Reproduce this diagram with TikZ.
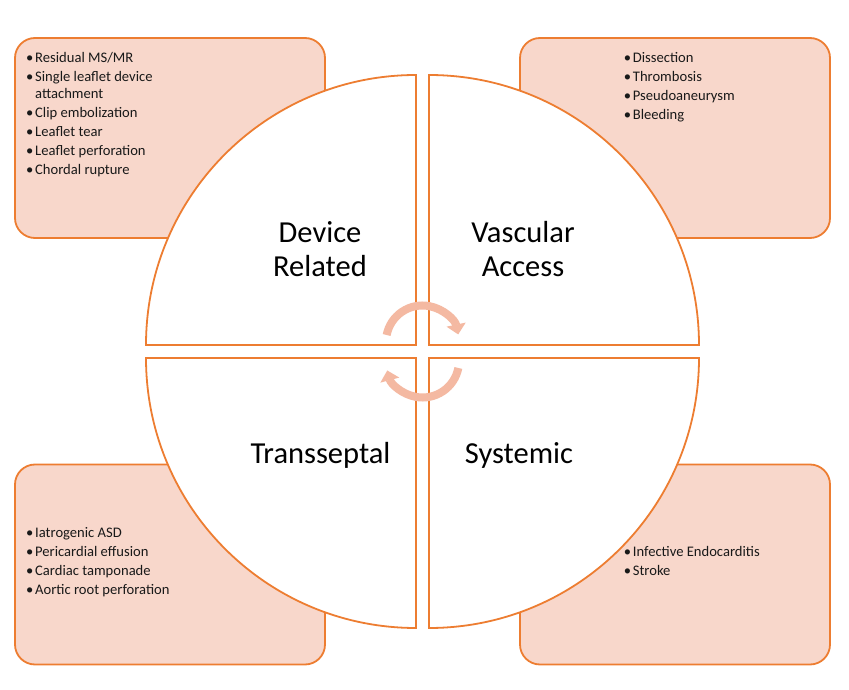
\documentclass[tikz,border=0pt]{standalone}
\usepackage{fontspec}
\setmainfont{Carlito}
\usetikzlibrary{arrows.meta}
\definecolor{edge}{HTML}{ED7D31}
\definecolor{boxfill}{HTML}{F8D7CB}
\definecolor{swirl}{HTML}{F4B9A2}
\newcommand{\bul}{\makebox[9pt][l]{•}}

\begin{document}
\begin{tikzpicture}[x=1pt, y=1pt,
    listbox/.style={draw=edge, fill=boxfill, line width=1.8pt, rounded corners=20pt,
      minimum width=310pt, minimum height=200pt},
    quad/.style={draw=edge, fill=white, line width=1.8pt},
    listtext/.style={anchor=north west, inner sep=0pt, align=left,
      font=\fontsize{14.6}{16.5}\selectfont, text=black!90},
    title/.style={align=center, inner sep=0pt, font=\fontsize{30.5}{34}\selectfont},
    swirlarc/.style={draw=swirl, line width=8pt, -{Triangle[width=19pt, length=10pt]}}]
      \useasboundingbox (0,0) rectangle (849,689);
      \node[listbox] (devbox) at (170,551) {};
      \node[listbox] (vasbox) at (675,551) {};
      \node[listbox] (transbox) at (170,124.5) {};
      \node[listbox] (sysbox) at (675,124.5) {};
      \draw[quad] (416,344) -- (146,344) arc[start angle=180, end angle=90, radius=270] -- cycle;
      \draw[quad] (429,344) -- (429,614) arc[start angle=90, end angle=0, radius=270] -- cycle;
      \draw[quad] (416,331) -- (416,61) arc[start angle=270, end angle=180, radius=270] -- cycle;
      \draw[quad] (429,331) -- (699,331) arc[start angle=0, end angle=-90, radius=270] -- cycle;
      \node[listtext] (devlist) at (26,636.5) {\bul Residual MS/MR\\[2.5pt]
        \bul Single leaflet device\\ \hspace*{9pt}attachment\\[2.5pt]
        \bul Clip embolization\\[2.5pt] \bul Leaflet tear\\[2.5pt]
        \bul Leaflet perforation\\[2.5pt] \bul Chordal rupture};
      \node[listtext] (vaslist) at (623.7,636.5) {\bul Dissection\\[2.5pt] \bul Thrombosis\\[2.5pt]
        \bul Pseudoaneurysm\\[2.5pt] \bul Bleeding};
      \node[listtext] (translist) at (26,161.5) {\bul Iatrogenic ASD\\[2.5pt] \bul Pericardial effusion\\[2.5pt]
        \bul Cardiac tamponade\\[2.5pt] \bul Aortic root perforation};
      \node[listtext] (syslist) at (623.7,142.5) {\bul Infective Endocarditis\\[2.5pt] \bul Stroke};
      \node[title] (dev) at (320,440) {Device\\Related};
      \node[title] (vas) at (523,440) {Vascular\\Access};
      \node[title, anchor=base] (trans) at (320.5,225.7) {Transseptal};
      \node[title, anchor=base] (sys) at (519,225.7) {Systemic};
      \draw[swirlarc] ([shift={(169:36.5)}]422.5,347) arc[start angle=169, end angle=12, radius=36.5];
      \draw[swirlarc] ([shift={(-11:36.5)}]422.5,328) arc[start angle=-11, end angle=-165, radius=36.5];
    \end{tikzpicture}
\end{document}
